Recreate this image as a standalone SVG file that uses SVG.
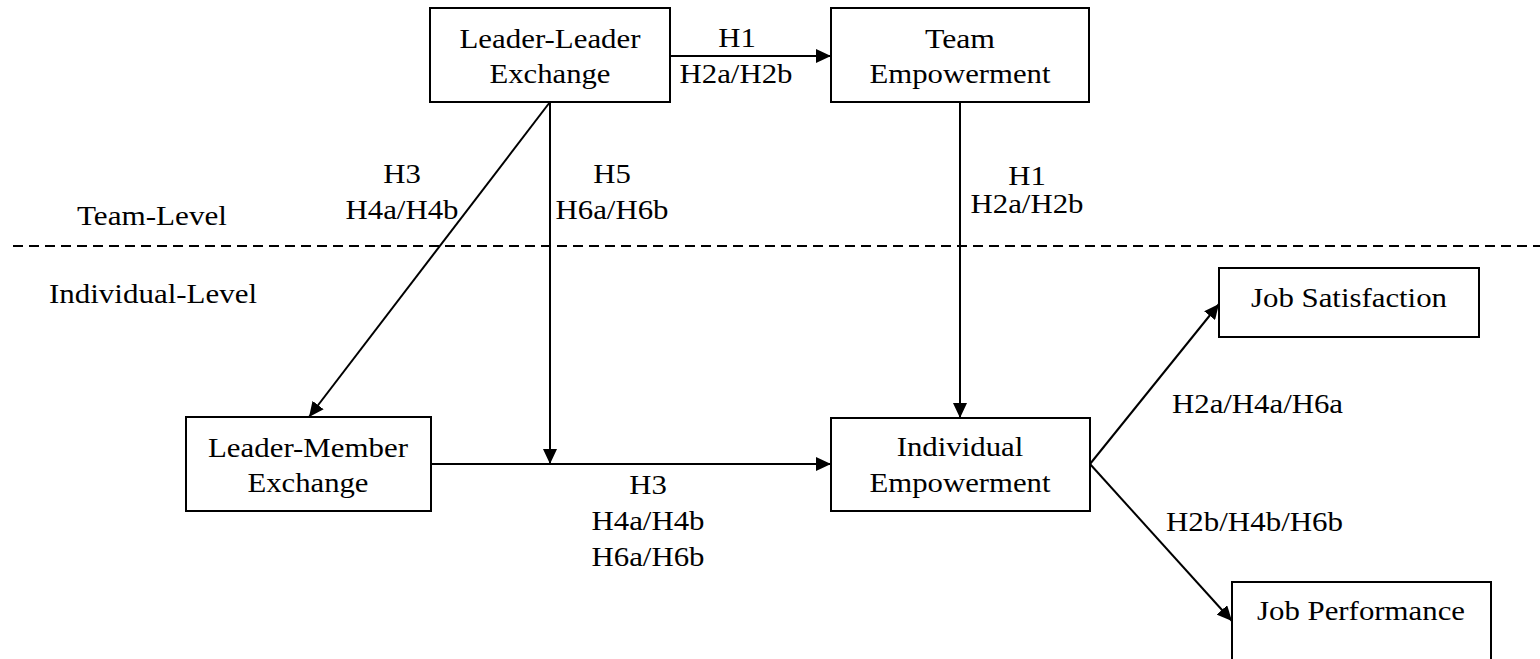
<svg xmlns="http://www.w3.org/2000/svg" width="1540" height="659" viewBox="0 0 1540 659">
<style>
.box{fill:#fff;stroke:#000;stroke-width:2}
.t{font-family:"Liberation Serif","Times New Roman",serif;font-size:28px;fill:#000;text-anchor:middle}
.c{fill:none;stroke:#000;stroke-width:2}
.dash{fill:none;stroke:#000;stroke-width:2;stroke-dasharray:10,6}
</style>
<defs>
<marker id="ah" markerUnits="userSpaceOnUse" markerWidth="15" markerHeight="14" refX="15" refY="7" orient="auto">
<path d="M0,0 L15,7 L0,14 z" fill="#000"/>
</marker>
</defs>
<rect width="1540" height="659" fill="#fff"/>
<line class="dash" x1="13" y1="246" x2="1540" y2="246"/>
<g id="connectors">
<line class="c" x1="670" y1="56" x2="831" y2="56" marker-end="url(#ah)"/>
<line class="c" x1="550" y1="102" x2="550" y2="464" marker-end="url(#ah)"/>
<line class="c" x1="550" y1="102" x2="309" y2="417" marker-end="url(#ah)"/>
<line class="c" x1="960" y1="102" x2="960" y2="418" marker-end="url(#ah)"/>
<line class="c" x1="431" y1="464" x2="831" y2="464" marker-end="url(#ah)"/>
<line class="c" x1="1090" y1="464" x2="1219" y2="304" marker-end="url(#ah)"/>
<line class="c" x1="1090" y1="464" x2="1232" y2="621" marker-end="url(#ah)"/>
</g>
<g id="labels">
<text class="t" x="737" y="47" textLength="37.6" lengthAdjust="spacingAndGlyphs">H1</text>
<text class="t" x="736" y="83" textLength="113" lengthAdjust="spacingAndGlyphs">H2a/H2b</text>
<text class="t" x="402" y="183" textLength="37.6" lengthAdjust="spacingAndGlyphs">H3</text>
<text class="t" x="402" y="219" textLength="113" lengthAdjust="spacingAndGlyphs">H4a/H4b</text>
<text class="t" x="612" y="183" textLength="37.6" lengthAdjust="spacingAndGlyphs">H5</text>
<text class="t" x="612" y="219" textLength="113" lengthAdjust="spacingAndGlyphs">H6a/H6b</text>
<text class="t" x="1027" y="185" textLength="37.6" lengthAdjust="spacingAndGlyphs">H1</text>
<text class="t" x="1027" y="213" textLength="113" lengthAdjust="spacingAndGlyphs">H2a/H2b</text>
<text class="t" x="648" y="494" textLength="37.6" lengthAdjust="spacingAndGlyphs">H3</text>
<text class="t" x="648" y="530" textLength="113" lengthAdjust="spacingAndGlyphs">H4a/H4b</text>
<text class="t" x="648" y="566" textLength="113" lengthAdjust="spacingAndGlyphs">H6a/H6b</text>
<text class="t" x="1257.5" y="413" textLength="171" lengthAdjust="spacingAndGlyphs">H2a/H4a/H6a</text>
<text class="t" x="1254.5" y="531" textLength="177" lengthAdjust="spacingAndGlyphs">H2b/H4b/H6b</text>
<text class="t" x="152" y="225" textLength="150" lengthAdjust="spacingAndGlyphs">Team-Level</text>
<text class="t" x="153" y="303" textLength="208" lengthAdjust="spacingAndGlyphs">Individual-Level</text>
</g>
<g id="llx">
<rect class="box" x="430" y="8" width="240" height="94"/>
<text class="t" x="550" y="48" textLength="181" lengthAdjust="spacingAndGlyphs">Leader-Leader</text>
<text class="t" x="550" y="83" textLength="121" lengthAdjust="spacingAndGlyphs">Exchange</text>
</g>
<g id="te">
<rect class="box" x="831" y="8" width="258" height="94"/>
<text class="t" x="960" y="48" textLength="70" lengthAdjust="spacingAndGlyphs">Team</text>
<text class="t" x="960" y="83" textLength="181" lengthAdjust="spacingAndGlyphs">Empowerment</text>
</g>
<g id="lmx">
<rect class="box" x="186" y="417" width="245" height="94"/>
<text class="t" x="308" y="457" textLength="200" lengthAdjust="spacingAndGlyphs">Leader-Member</text>
<text class="t" x="308" y="492" textLength="121" lengthAdjust="spacingAndGlyphs">Exchange</text>
</g>
<g id="ie">
<rect class="box" x="831" y="418" width="259" height="93"/>
<text class="t" x="960" y="456" textLength="126.6" lengthAdjust="spacingAndGlyphs">Individual</text>
<text class="t" x="960" y="492" textLength="181" lengthAdjust="spacingAndGlyphs">Empowerment</text>
</g>
<g id="js">
<rect class="box" x="1219" y="268" width="260" height="69"/>
<text class="t" x="1349" y="307" textLength="196" lengthAdjust="spacingAndGlyphs">Job Satisfaction</text>
</g>
<g id="jp">
<rect class="box" x="1232" y="582" width="259" height="100"/>
<text class="t" x="1361" y="620" textLength="208" lengthAdjust="spacingAndGlyphs">Job Performance</text>
</g>
</svg>
